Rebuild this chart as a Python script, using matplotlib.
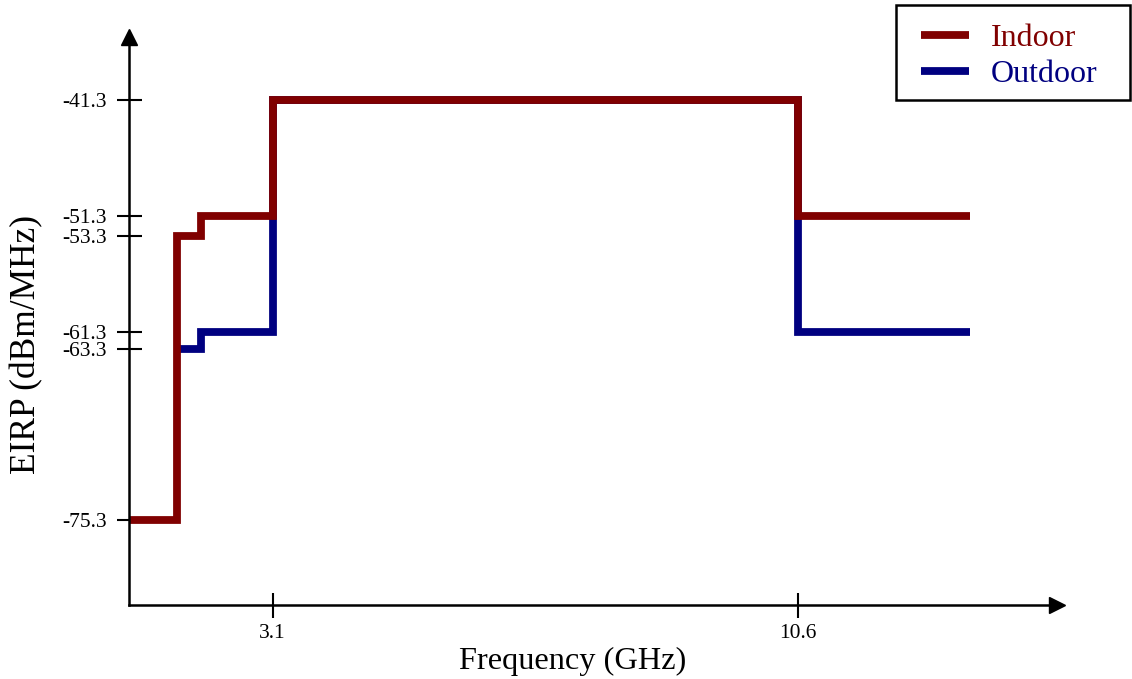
import matplotlib
matplotlib.use("Agg")
import matplotlib.pyplot as plt
from matplotlib.patches import Rectangle
import numpy as np

plt.rcParams['font.family'] = ['Liberation Serif', 'DejaVu Serif']

# FCC UWB emission mask (EIRP limits)
indoor_freq = [0.96, 1.61, 1.99, 3.1, 10.6, 13.05]
indoor_eirp = [-75.3, -53.3, -51.3, -41.3, -51.3, -51.3]
outdoor_freq = [1.61, 1.99, 3.1, 10.6, 13.05]
outdoor_eirp = [-63.3, -61.3, -41.3, -61.3, -61.3]

x_ticks = [3.1, 10.6]
x_tick_labels = ['3.1', '10.6']
y_ticks = [-75.3, -63.3, -61.3, -53.3, -51.3, -41.3]
y_tick_labels = ['-75.3', '-63.3', '-61.3', '-53.3', '-51.3', '-41.3']

indoor_color = '#800000'
outdoor_color = '#000080'

# the drawing is not to scale: piecewise scales through the labelled points
x_knots = np.array([0.96, 1.61, 1.99, 3.1, 10.6, 14.3])
x_pos = np.array([129, 177, 201, 272.5, 798, 1057])
y_knots = np.array([-82.6, -75.3, -63.3, -61.3, -53.3, -51.3, -41.3, -35.0])
y_pos = 679 - np.array([605, 520, 349, 332, 236, 216, 100, 37])


def x_fwd(v):
    return np.interp(v, x_knots, x_pos)


def x_inv(v):
    return np.interp(v, x_pos, x_knots)


def y_fwd(v):
    return np.interp(v, y_knots, y_pos)


def y_inv(v):
    return np.interp(v, y_pos, y_knots)


W, H = 1132, 679
fig = plt.figure(figsize=(W / 100, H / 100), dpi=100)
ax = fig.add_axes([129 / W, 1 - 605 / H, (1057 - 129) / W, (605 - 37) / H])
ax.set_xscale('function', functions=(x_fwd, x_inv))
ax.set_yscale('function', functions=(y_fwd, y_inv))
ax.set_xlim(x_knots[0], x_knots[-1])
ax.set_ylim(y_knots[0], y_knots[-1])

lw = 5.6
ax.plot(outdoor_freq, outdoor_eirp, drawstyle='steps-post', color=outdoor_color,
        lw=lw, solid_joinstyle='miter', solid_capstyle='butt', label='Outdoor', zorder=2)
ax.plot(indoor_freq, indoor_eirp, drawstyle='steps-post', color=indoor_color,
        lw=lw, solid_joinstyle='miter', solid_capstyle='butt', label='Indoor', zorder=3)

for side in ['top', 'right']:
    ax.spines[side].set_visible(False)
for side in ['left', 'bottom']:
    ax.spines[side].set_linewidth(1.8)
    ax.spines[side].set_zorder(4)

# arrow heads on the axes
ax.plot([0], [1], marker='^', ms=11.5, color='black', transform=ax.transAxes, clip_on=False, zorder=5)
ax.plot([1], [0], marker='>', ms=11.5, color='black', transform=ax.transAxes, clip_on=False, zorder=5)

ax.set_xticks(x_ticks)
ax.set_xticklabels(x_tick_labels)
ax.set_yticks(y_ticks)
ax.set_yticklabels(y_tick_labels)
ax.minorticks_off()
ax.tick_params(direction='inout', length=18, width=1.5, labelsize=15.5)
ax.tick_params(axis='x', pad=5)
ax.tick_params(axis='y', pad=7)

fig.text(573 / W, 1 - 661 / H, 'Frequency (GHz)', fontsize=23.3, ha='center', va='center')
fig.text(27 / W, 1 - 344 / H, 'EIRP (dBm/MHz)', fontsize=25.5, ha='center', va='center', rotation=90)

# legend: box drawn separately so its size matches
fig.patches.append(Rectangle((896 / W, 1 - 100 / H), (1130 - 896) / W, 95 / H,
                             transform=fig.transFigure, facecolor='white',
                             edgecolor='black', lw=1.8, zorder=1))
handles, labels = ax.get_legend_handles_labels()
leg = fig.legend(handles[::-1], labels[::-1], loc='center left',
                 bbox_to_anchor=(921 / W, 1 - 56.5 / H), bbox_transform=fig.transFigure,
                 fontsize=23, frameon=False, borderaxespad=0, borderpad=0,
                 handlelength=1.5, handletextpad=0.68, labelspacing=0.22,
                 labelcolor='linecolor')
leg.set_zorder(2)

fig.savefig('out.png', dpi=100)
